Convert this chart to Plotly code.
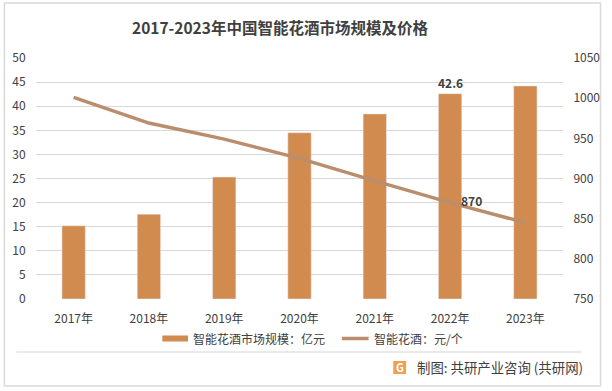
import plotly.graph_objects as go

years = ["2017年", "2018年", "2019年", "2020年", "2021年", "2022年", "2023年"]
market_size = [15.2, 17.6, 25.3, 34.5, 38.4, 42.6, 44.2]
unit_price = [1001, 969, 949, 925, 897, 870, 845]
left_ticks = [0, 5, 10, 15, 20, 25, 30, 35, 40, 45, 50]
right_ticks = [750, 800, 850, 900, 950, 1000, 1050]

W, H = 612, 391
ML, MR, MT, MB = 35, 43, 58, 92
PW, PH = W - ML - MR, H - MT - MB

def px(x):
    return (x - ML) / PW

def py(y):
    return (H - MB - y) / PH

FONT = "Noto Sans CJK SC, Microsoft YaHei, sans-serif"
BAR_C = "#D28B4E"
LINE_C = "#BA8D6D"
TXT = "#404040"
CLEAR = "rgba(0,0,0,0)"

fig = go.Figure()
fig.add_trace(go.Bar(x=years, y=market_size, marker_color=BAR_C, width=0.31,
                     name="智能花酒市场规模：亿元", showlegend=False))
fig.add_trace(go.Scatter(x=years, y=unit_price, yaxis="y2", mode="lines",
                         line=dict(color=LINE_C, width=3.5),
                         name="智能花酒：元/个", showlegend=False))

shapes = [
    dict(type="rect", xref="paper", yref="paper", x0=px(3), x1=px(607), y0=py(3), y1=py(386),
         line=dict(color="#D9D9D9", width=1.5), layer="below"),
    dict(type="line", xref="paper", yref="paper", x0=px(15), x1=px(588), y0=py(352), y1=py(352),
         line=dict(color="#E3E3E3", width=1.5)),
    dict(type="rect", xref="paper", yref="paper", x0=px(163), x1=px(189), y0=py(335.5), y1=py(341.5),
         fillcolor=BAR_C, line=dict(width=0)),
    dict(type="line", xref="paper", yref="paper", x0=px(345), x1=px(372), y0=py(338.5), y1=py(338.5),
         line=dict(color=LINE_C, width=3.5)),
    dict(type="rect", xref="paper", yref="paper", x0=px(397), x1=px(410), y0=py(361), y1=py(374),
         fillcolor="#F0A050", line=dict(width=0)),
]

annotations = [
    dict(text="<b>2017-2023年中国智能花酒市场规模及价格</b>", xref="paper", yref="paper",
         x=px(282), y=py(27), showarrow=False, font=dict(size=15.5, color=TXT, family=FONT),
         xanchor="center", yanchor="middle"),
    dict(text="<b>" + str(market_size[5]) + "</b>", x=years[5], y=market_size[5], yref="y",
         showarrow=False, yanchor="bottom", yshift=1, font=dict(size=12, color=TXT, family=FONT)),
    dict(text="<b>" + str(unit_price[5]) + "</b>", x=years[5], y=unit_price[5], yref="y2",
         showarrow=False, xshift=21, yshift=2, font=dict(size=12, color=TXT, family=FONT)),
    dict(text="智能花酒市场规模：亿元", xref="paper", yref="paper", x=px(192), y=py(338.5),
         xanchor="left", yanchor="middle", showarrow=False, font=dict(size=12, color=TXT, family=FONT)),
    dict(text="智能花酒：元/个", xref="paper", yref="paper", x=px(375), y=py(338.5),
         xanchor="left", yanchor="middle", showarrow=False, font=dict(size=12, color=TXT, family=FONT)),
    dict(text="<b>G</b>", xref="paper", yref="paper", x=px(403.5), y=py(367.5),
         xanchor="center", yanchor="middle", showarrow=False, font=dict(size=11, color="white", family=FONT)),
    dict(text="制图: 共研产业咨询 (共研网)", xref="paper", yref="paper", x=px(419), y=py(367),
         xanchor="left", yanchor="middle", showarrow=False, font=dict(size=13.4, color=TXT, family=FONT)),
]

fig.update_layout(
    width=W, height=H, margin=dict(l=ML, r=MR, t=MT, b=MB),
    paper_bgcolor="white", plot_bgcolor="white",
    font=dict(family=FONT, color=TXT, size=12),
    xaxis=dict(type="category", showgrid=False, showline=False,
               ticks="outside", ticklen=9, tickcolor=CLEAR,
               tickfont=dict(size=12, color=TXT)),
    yaxis=dict(range=[0, 50], tickvals=left_ticks, showgrid=True, gridcolor="#D9D9D9", gridwidth=1,
               zeroline=False, showline=False, ticks="outside", ticklen=7, tickcolor=CLEAR,
               tickfont=dict(size=12, color=TXT)),
    yaxis2=dict(range=[750, 1050], tickvals=right_ticks, overlaying="y", side="right",
                showgrid=False, zeroline=False, showline=False,
                ticks="outside", ticklen=7, tickcolor=CLEAR,
                tickfont=dict(size=12, color=TXT)),
    shapes=shapes, annotations=annotations, bargap=0.69,
)

fig.write_html("out.html", config={"displayModeBar": False},
               post_script="document.body.style.margin='0';")
